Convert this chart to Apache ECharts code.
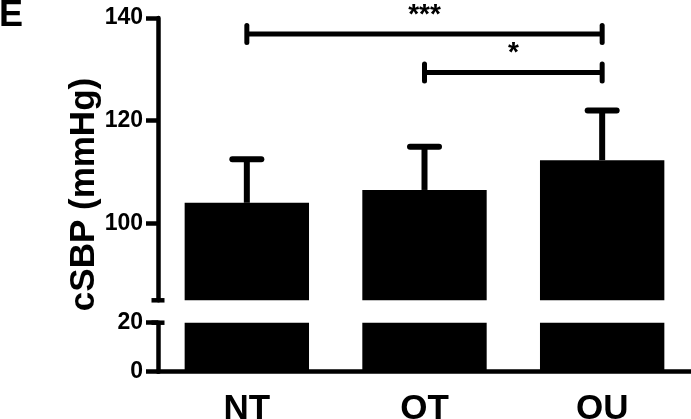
<!DOCTYPE html>
<html>
<head>
<meta charset="utf-8">
<script src="https://cdn.jsdelivr.net/npm/echarts@6/dist/echarts.min.js"></script>
<style>
html,body{margin:0;padding:0;background:#fff;}
#c{width:691px;height:419px;}
</style>
</head>
<body>
<div id="c"></div>
<script>
const categories = ['NT', 'OT', 'OU'];
const means = [104.0, 106.5, 112.3];
const upperErr = [112.5, 114.9, 122.0];
const yTicksUpper = [100, 120, 140];
const yTicksLower = [0, 20];
const brkFrom = ['NT', 'OT'];
const brkTo = ['OU', 'OU'];
const brkY = [136.9, 129.4];
const brkLabel = ['***', '*'];

const FONT = "Arial, 'Liberation Sans', sans-serif";
const LW = 4.5;
const chart = echarts.init(document.getElementById('c'));

const axisLineStyle = { color: '#000', width: LW };

chart.setOption({
  animation: false,
  backgroundColor: '#fff',
  grid: [
    { left: 158, right: 0, top: 18, height: 282.3, containLabel: false, outerBoundsMode: 'none' },
    { left: 158, right: 0, top: 322.7, height: 49, containLabel: false, outerBoundsMode: 'none' }
  ],
  xAxis: [
    { type: 'category', gridIndex: 0, data: categories, show: false },
    {
      type: 'category', gridIndex: 1, data: categories,
      axisLine: { lineStyle: axisLineStyle },
      axisTick: { alignWithLabel: true, length: 10, lineStyle: { color: '#000', width: LW } },
      axisLabel: { color: '#000', fontSize: 35, fontWeight: 'bold', fontFamily: FONT, margin: 20 }
    }
  ],
  yAxis: [
    {
      type: 'value', gridIndex: 0, min: 85, max: 140,
      splitLine: { show: false },
      axisLine: { show: true, lineStyle: axisLineStyle, symbol: ['rect', 'none'], symbolSize: [13, LW] },
      axisTick: { show: true, length: 12, lineStyle: { color: '#000', width: LW }, customValues: yTicksUpper },
      axisLabel: { color: '#000', fontSize: 23, fontWeight: 'bold', fontFamily: FONT, margin: 15, customValues: yTicksUpper }
    },
    {
      type: 'value', gridIndex: 1, min: 0, max: 20, interval: 20,
      splitLine: { show: false },
      axisLine: { show: true, lineStyle: axisLineStyle, symbol: ['none', 'rect'], symbolSize: [13, LW] },
      axisTick: { show: true, length: 12, lineStyle: { color: '#000', width: LW }, customValues: yTicksLower },
      axisLabel: { color: '#000', fontSize: 23, fontWeight: 'bold', fontFamily: FONT, margin: 15, customValues: yTicksLower }
    }
  ],
  graphic: [
    {
      type: 'text', x: 84, y: 194.5, rotation: Math.PI / 2,
      style: { text: 'cSBP (mmHg)', fill: '#000', font: 'bold 35px ' + FONT, textAlign: 'center', textVerticalAlign: 'middle' }
    },
    {
      type: 'text', x: -1, y: -2,
      style: { text: 'E', fill: '#000', font: 'bold 36px ' + FONT, textAlign: 'left', textVerticalAlign: 'top' }
    }
  ],
  series: [
    {
      type: 'bar', xAxisIndex: 0, yAxisIndex: 0, data: means, barWidth: '70%', clip: true,
      itemStyle: { color: '#000' }
    },
    {
      type: 'bar', xAxisIndex: 1, yAxisIndex: 1, data: means, barWidth: '70%', clip: true,
      itemStyle: { color: '#000' }
    },
    {
      type: 'custom', xAxisIndex: 0, yAxisIndex: 0,
      encode: { x: 0, y: [1, 2] },
      data: categories.map((c, i) => [i, means[i], upperErr[i]]),
      renderItem: function (params, api) {
        const base = api.coord([api.value(0), api.value(1)]);
        const top = api.coord([api.value(0), api.value(2)]);
        return {
          type: 'group',
          children: [
            { type: 'line', shape: { x1: base[0], y1: base[1], x2: base[0], y2: top[1] }, style: { stroke: '#000', lineWidth: 6 } },
            { type: 'line', shape: { x1: top[0] - 14.5, y1: top[1], x2: top[0] + 14.5, y2: top[1] }, style: { stroke: '#000', lineWidth: 6, lineCap: 'round' } }
          ]
        };
      }
    },
    {
      type: 'custom', xAxisIndex: 0, yAxisIndex: 0,
      encode: { x: [0, 1], y: 2 },
      data: brkFrom.map((f, i) => [categories.indexOf(f), categories.indexOf(brkTo[i]), brkY[i]]),
      renderItem: function (params, api) {
        const a = api.coord([api.value(0), api.value(2)]);
        const b = api.coord([api.value(1), api.value(2)]);
        const label = brkLabel[params.dataIndex];
        return {
          type: 'group',
          children: [
            { type: 'line', shape: { x1: a[0], y1: a[1], x2: b[0], y2: b[1] }, style: { stroke: '#000', lineWidth: 5 } },
            { type: 'line', shape: { x1: a[0], y1: a[1] - 8.5, x2: a[0], y2: a[1] + 8.5 }, style: { stroke: '#000', lineWidth: 5, lineCap: 'round' } },
            { type: 'line', shape: { x1: b[0], y1: b[1] - 8.5, x2: b[0], y2: b[1] + 8.5 }, style: { stroke: '#000', lineWidth: 5, lineCap: 'round' } },
            { type: 'text', x: (a[0] + b[0]) / 2, y: a[1] - 19,
              style: { text: label, fill: '#000', font: 'bold 28px ' + FONT, textAlign: 'center', textVerticalAlign: 'middle' } }
          ]
        };
      }
    }
  ]
});
</script>
</body>
</html>
